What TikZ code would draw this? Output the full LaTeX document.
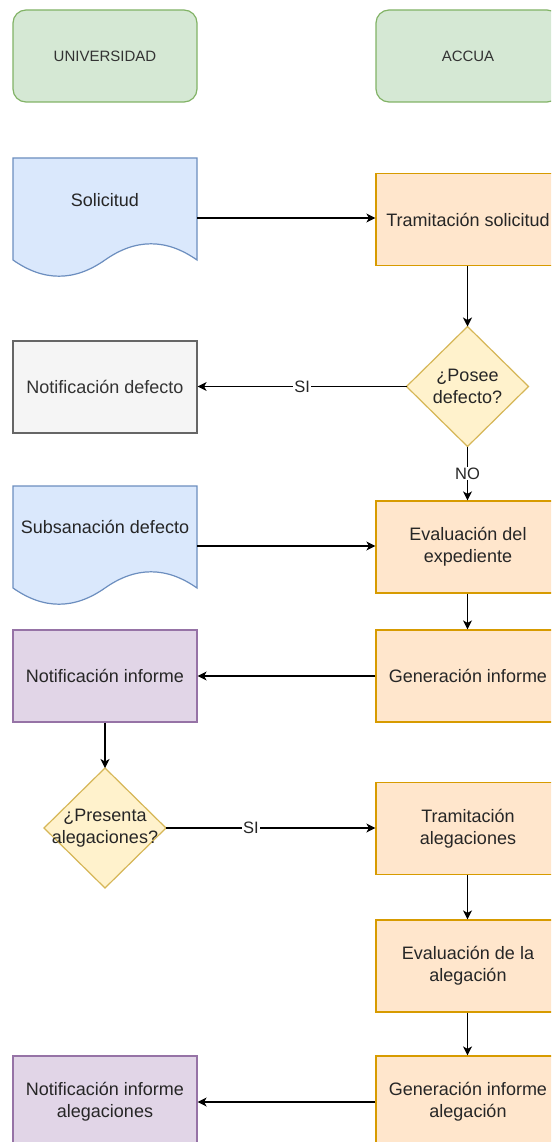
\documentclass[tikz,border=0pt]{standalone}
\usepackage{fontspec}
\setmainfont{Liberation Sans}
\usetikzlibrary{arrows.meta}
\definecolor{gfill}{HTML}{D5E8D4}\definecolor{gline}{HTML}{82B366}
\definecolor{bfill}{HTML}{DAE8FC}\definecolor{bline}{HTML}{6C8EBF}
\definecolor{ofill}{HTML}{FFE6CC}\definecolor{oline}{HTML}{D79B00}
\definecolor{yfill}{HTML}{FFF2CC}\definecolor{yline}{HTML}{D6B656}
\definecolor{sfill}{HTML}{F5F5F5}\definecolor{sline}{HTML}{666666}\definecolor{stext}{HTML}{333333}
\definecolor{pfill}{HTML}{E1D5E7}\definecolor{pline}{HTML}{9673A6}
\begin{document}
\begin{tikzpicture}[x=1pt,y=-1pt,
  txt/.style={font=\fontsize{18}{22}\selectfont,align=center,text=black!85},
  hdr/.style={draw=gline,fill=gfill,line width=1.2pt,rounded corners=13pt,minimum width=184pt,minimum height=92pt,font=\fontsize{15}{18}\selectfont,text=black!80},
  procbox/.style={txt,draw=oline,fill=ofill,line width=1.2pt,minimum width=184pt,minimum height=92pt},
  graybox/.style={txt,draw=sline,fill=sfill,line width=1.2pt,minimum width=184pt,minimum height=92pt,text=stext},
  purbox/.style={txt,draw=pline,fill=pfill,line width=1.2pt,minimum width=184pt,minimum height=92pt},
  docanchor/.style={minimum width=184pt,minimum height=120pt,inner sep=0pt},
  docline/.style={draw=bline,fill=bfill,line width=1.2pt},
  decision/.style={draw=yline,fill=yfill,line width=1.2pt},
  conn/.style={line width=1.3pt,-{Stealth[length=9pt,width=9pt,inset=2.5pt]}},
  elabel/.style={fill=white,inner sep=1pt,font=\fontsize{16.5}{18}\selectfont,text=black!85}]
\path[use as bounding box] (0,0) rectangle (551,1142);
\clip (0,0) rectangle (551,1142);
\fill[white] (0,0) rectangle (551,1142);

% headers
\node[hdr] (uni) at (105,56) {UNIVERSIDAD};
\node[hdr] (accua) at (468,56) {ACCUA};

% document shapes
\node[docanchor] (sol) at (105,218) {};
\path[docline] (13,158) -- (197,158) -- (197,260)
  .. controls (166.3,238.4) and (135.7,238.4) .. (105,260)
  .. controls (74.3,281.6) and (43.7,281.6) .. (13,260) -- cycle;
\node[txt] (solt) at (105,200) {Solicitud};

\node[docanchor] (sub) at (105,546) {};
\path[docline] (13,486) -- (197,486) -- (197,588)
  .. controls (166.3,566.4) and (135.7,566.4) .. (105,588)
  .. controls (74.3,609.6) and (43.7,609.6) .. (13,588) -- cycle;
\node[txt] (subt) at (105,527) {Subsanación defecto};

% right column
\node[procbox] (tram) at (468,219.5) {Tramitación solicitud};
\node[procbox] (eval) at (468,547) {Evaluación del\\expediente};
\node[procbox] (gen) at (468,676) {Generación informe};
\node[procbox] (tramal) at (468,828.5) {Tramitación\\alegaciones};
\node[procbox] (evalal) at (468,966) {Evaluación de la\\alegación};
\node[procbox] (genal) at (468,1102) {Generación informe\\alegación};

% left column
\node[graybox] (notdef) at (105,387) {Notificación defecto};
\node[purbox] (notinf) at (105,676) {Notificación informe};
\node[purbox] (notinfal) at (105,1102) {Notificación informe\\alegaciones};

% decisions
\coordinate (pc) at (467.5,386.5);
\path[decision] (467.5,326.5) coordinate (pt) -- (528.5,386.5) coordinate (pr) -- (467.5,446.5) coordinate (pb) -- (406.5,386.5) coordinate (pl) -- cycle;
\node[txt] (posee) at (pc) {¿Posee\\defecto?};

\coordinate (qc) at (105,828);
\path[decision] (105,768) coordinate (qt) -- (166,828) coordinate (qr) -- (105,888) coordinate (qb) -- (44,828) coordinate (ql) -- cycle;
\node[txt] (presenta) at (qc) {¿Presenta\\alegaciones?};

% connectors
\draw[conn] (sol.east) -- (sol.east -| tram.west);
\draw[conn] (tram.south -| pt) -- (pt);
\draw[conn] (pl) -- node[elabel] {SI} (pl -| notdef.east);
\draw[conn] (pb) -- node[elabel] {NO} (pb |- eval.north);
\draw[conn] (sub.east) -- (sub.east -| eval.west);
\draw[conn] (eval.south -| pt) -- (gen.north -| pt);
\draw[conn] (gen.west) -- (notinf.east);
\draw[conn] (notinf.south) -- (qt);
\draw[conn] (qr) -- node[elabel,pos=0.405] {SI} (qr -| tramal.west);
\draw[conn] (tramal.south -| pt) -- (evalal.north -| pt);
\draw[conn] (evalal.south -| pt) -- (genal.north -| pt);
\draw[conn] (genal.west) -- (notinfal.east);
\end{tikzpicture}
\end{document}
